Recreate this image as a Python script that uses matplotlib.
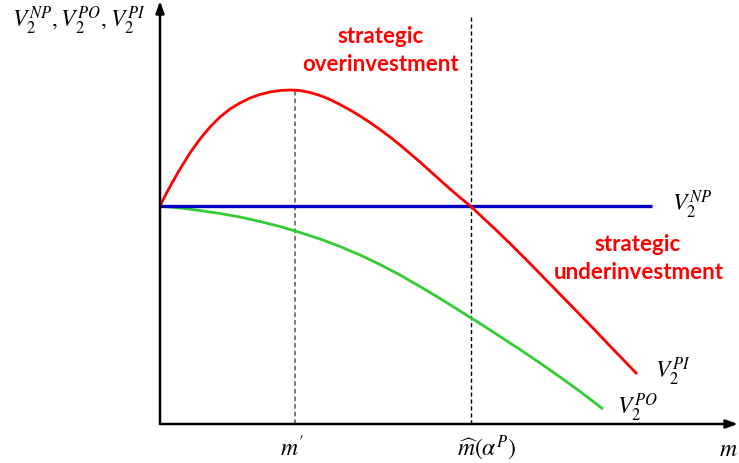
import matplotlib
matplotlib.use("Agg")
import matplotlib.pyplot as plt

plt.rcParams['mathtext.fontset'] = 'stix'

# Data (m = horizontal position, V = value; origin at axes intersection)
red_m = [0, 6, 12, 20, 30, 40, 50, 60, 70, 80, 90, 100, 110, 120, 130, 140, 150, 160, 170,
         180, 190, 200, 210, 220, 230, 240, 250, 260, 270, 280, 290, 300, 311, 320, 335,
         350, 370, 390, 410, 430, 450, 477]
red_V = [218, 230, 241, 255, 271, 285, 297, 307, 315, 321, 326, 329.5, 332, 333.5, 334,
         333.5, 331.5, 328.5, 324.5, 319.5, 314, 308, 301.5, 294.5, 287, 279, 270.5, 262,
         253, 244, 235, 226.5, 217.5, 209, 195, 180.5, 160.5, 140, 119.5, 99, 78, 50]
green_m = [0, 20, 40, 60, 80, 100, 120, 140, 160, 180, 200, 220, 240, 260, 280, 300, 320,
           340, 360, 380, 400, 420, 443]
green_V = [218, 216, 213.5, 210.5, 207, 202.5, 197.5, 191.5, 185, 177.5, 169, 159.5, 149,
           137.5, 125.5, 113, 100.5, 87.5, 74.5, 61, 47, 32.5, 15]
blue_m = [0, 492]
blue_V = [218, 218]
m_prime = 135
m_prime_top = 334
m_hat = 311
m_hat_top = 407

fig = plt.figure(figsize=(7.39, 4.64), dpi=100)
ax = fig.add_axes([0, 0, 1, 1])
ax.set_xlim(-160, 579)
ax.set_ylim(-39, 425)
ax.axis('off')

# axes with arrows
ax.annotate('', xy=(578, 0), xytext=(0, 0),
            arrowprops=dict(arrowstyle='-|>,head_length=0.7,head_width=0.25', lw=1.8,
                            color='black', shrinkA=0, shrinkB=0))
ax.annotate('', xy=(0, 423), xytext=(0, 0),
            arrowprops=dict(arrowstyle='-|>,head_length=0.7,head_width=0.25', lw=1.8,
                            color='black', shrinkA=0, shrinkB=0))

# dashed guides
ax.plot([m_prime, m_prime], [0, m_prime_top], ls=(0, (3, 2)), color='#555555', lw=1.1)
ax.plot([m_hat, m_hat], [0, m_hat_top], ls=(0, (3, 2)), color='black', lw=1.0)

# curves
ax.plot(green_m, green_V, color='#33CC33', lw=2.0, solid_capstyle='butt', solid_joinstyle='round')
ax.plot(blue_m, blue_V, color='#0000C0', lw=2.4, solid_capstyle='butt')
ax.plot(red_m, red_V, color='#FF0000', lw=2.0, solid_capstyle='butt', solid_joinstyle='round')

mfs = 17
ax.text(-148, 397, r'$V_2^{NP}, V_2^{PO}, V_2^{PI}$', fontsize=mfs, ha='left', va='baseline')
ax.text(512, 213, r'$V_2^{NP}$', fontsize=mfs, ha='left', va='baseline')
ax.text(495, 46, r'$V_2^{PI}$', fontsize=mfs, ha='left', va='baseline')
ax.text(457, 10, r'$V_2^{PO}$', fontsize=mfs, ha='left', va='baseline')
ax.text(132, -31, r"$m'$", fontsize=mfs, ha='center', va='baseline')
ax.text(327, -31, r'$\widehat{m}(\alpha^P)$', fontsize=mfs, ha='center', va='baseline')
ax.text(568, -31, r'$m$', fontsize=mfs, ha='center', va='baseline')

tfs = 16
kw = dict(fontsize=tfs, color='#FF0000', fontweight='bold', family='Lato', ha='center', va='baseline')
ax.text(221, 382, 'strategic', **kw)
ax.text(221, 354, 'overinvestment', **kw)
ax.text(478, 174, 'strategic', **kw)
ax.text(479, 146, 'underinvestment', **kw)

fig.savefig('out.png', dpi=100)
